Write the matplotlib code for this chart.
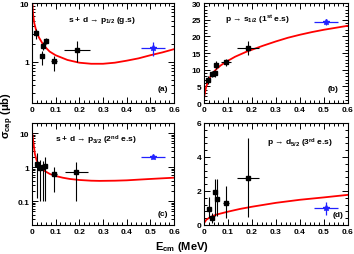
import numpy as np
import matplotlib
matplotlib.use('Agg')
import matplotlib.pyplot as plt
from matplotlib.ticker import MultipleLocator, FixedLocator, FixedFormatter, NullFormatter, LogLocator

plt.rcParams['font.family'] = ['Liberation Sans', 'DejaVu Sans']
plt.rcParams['mathtext.fontset'] = 'custom'
plt.rcParams['mathtext.rm'] = 'Liberation Sans:bold'
plt.rcParams['mathtext.it'] = 'Liberation Sans:bold'
plt.rcParams['mathtext.bf'] = 'Liberation Sans:bold'

# ---- panel (a) s + d -> p1/2 (g.s) ----
a_x = [0.017, 0.041, 0.048, 0.058, 0.093, 0.189]
a_y = [3.1, 1.25, 1.89, 2.3, 1.03, 1.62]
a_xlo = [0.008, 0.004, 0.004, 0.004, 0.012, 0.055]
a_xhi = [0.008, 0.004, 0.004, 0.004, 0.012, 0.055]
a_ylo = [0.65, 0.38, 0.3, 0.3, 0.32, 0.63]
a_yhi = [0.5, 0.3, 0.3, 0.3, 0.25, 0.68]
a_bx, a_by = 0.51, 1.71
a_bxe, a_bye = [0.05], [[0.43], [0.5]]
a_cx = [0.002, 0.005, 0.01, 0.02, 0.03, 0.05, 0.075, 0.1, 0.15, 0.2, 0.25, 0.3,
        0.35, 0.4, 0.45, 0.5, 0.55, 0.6]
a_cy = [10.5, 6.5, 4.6, 3.2, 2.6, 1.9, 1.5, 1.3, 1.08, 0.97, 0.93, 0.93,
        0.97, 1.05, 1.15, 1.3, 1.45, 1.65]

# ---- panel (b) p -> s1/2 (1st e.s) ----
b_x = [0.017, 0.035, 0.045, 0.052, 0.093, 0.184]
b_y = [6.9, 8.7, 8.9, 11.4, 12.2, 16.5]
b_xe = [0.006, 0.008, 0.008, 0.006, 0.02, 0.045]
b_ye = [1.3, 1.0, 1.0, 1.2, 1.0, 2.0]
b_bx, b_by = 0.51, 24.3
b_bxe, b_bye = [0.05], [0.9]
b_cx = [0.0, 0.003, 0.01, 0.024, 0.04, 0.052, 0.07, 0.093, 0.13, 0.177, 0.246,
        0.3, 0.35, 0.4, 0.45, 0.5, 0.55, 0.6]
b_cy = [1.2, 2.6, 5.0, 7.6, 9.2, 10.2, 11.3, 12.4, 13.9, 15.4, 17.2,
        18.5, 19.6, 20.5, 21.3, 22.0, 22.6, 23.2]

# ---- panel (c) s + d -> p3/2 (2nd e.s) ----
c_x = [0.021, 0.034, 0.045, 0.057, 0.094, 0.187]
c_y = [1.25, 0.95, 1.0, 1.1, 0.62, 0.70]
c_xe = [0.004, 0.004, 0.004, 0.004, 0.012, 0.049]
c_ylo = [1.13, 0.85, 0.9, 1.0, 0.43, 0.60]
c_yhi = [1.3, 0.65, 0.5, 0.9, 0.4, 0.74]
c_bx, c_by = 0.51, 2.0
c_bxe, c_bye = [0.05], [0.3]
c_cx = [0.002, 0.006, 0.013, 0.02, 0.034, 0.05, 0.076, 0.1, 0.13, 0.16, 0.2,
        0.25, 0.285, 0.35, 0.4, 0.45, 0.5, 0.55, 0.6]
c_cy = [9.5, 5.6, 2.4, 1.6, 1.03, 0.8, 0.63, 0.55, 0.49, 0.45, 0.42,
        0.4, 0.395, 0.4, 0.41, 0.43, 0.45, 0.47, 0.49]

# ---- panel (d) p -> d5/2 (3rd e.s) ----
d_x = [0.02, 0.035, 0.045, 0.054, 0.091, 0.184]
d_y = [0.94, 0.43, 1.91, 1.52, 1.31, 2.79]
d_xe = [0.004, 0.004, 0.004, 0.004, 0.012, 0.046]
d_ylo = [0.55, 0.3, 1.4, 1.0, 0.92, 2.34]
d_yhi = [0.72, 0.3, 0.82, 1.2, 0.97, 2.3]
d_bx, d_by = 0.508, 0.97
d_bxe, d_bye = [0.05], [0.39]
d_cx = [0.0, 0.01, 0.025, 0.05, 0.1, 0.15, 0.2, 0.3, 0.4, 0.5, 0.6]
d_cy = [0.1, 0.3, 0.45, 0.6, 0.78, 0.94, 1.07, 1.3, 1.48, 1.62, 1.77]

fig = plt.figure(figsize=(3.54, 2.55), dpi=100)
ax_a = fig.add_axes([0.090, 0.592, 0.402, 0.392])
ax_b = fig.add_axes([0.576, 0.592, 0.407, 0.392])
ax_c = fig.add_axes([0.090, 0.114, 0.402, 0.400])
ax_d = fig.add_axes([0.576, 0.114, 0.407, 0.400])

blue = '#2222ff'


def style(ax):
    ax.set_xlim(0, 0.6)
    ax.xaxis.set_minor_locator(MultipleLocator(0.02))
    ax.set_xticks([0, 0.1, 0.2, 0.3, 0.4, 0.5, 0.6])
    ax.set_xticklabels(['0', '0.1', '0.2', '0.3', '0.4', '0.5', '0.6'])
    ax.tick_params(which='both', direction='in', top=True, right=True,
                   labelsize=6, pad=2, width=0.7)
    ax.tick_params(which='major', length=4)
    ax.tick_params(which='minor', length=2)
    for lab in ax.get_xticklabels():
        lab.set_fontweight('bold')
    for s in ax.spines.values():
        s.set_linewidth(0.8)


def bold_y(ax):
    for lab in ax.get_yticklabels():
        lab.set_fontweight('bold')


def points(ax, x, y, xe, ye, bx, by, bxe, bye):
    ax.errorbar(x, y, xerr=xe, yerr=ye, fmt='s', color='black', ms=3,
                elinewidth=0.8, capsize=0, zorder=3)
    ax.errorbar([bx], [by], xerr=bxe, yerr=bye, fmt='*', color=blue, ms=4,
                elinewidth=0.9, capsize=0, zorder=3)


def label(ax, x, y, s):
    ax.text(x, y, s, transform=ax.transAxes, ha='center', va='center',
            fontsize=6, fontweight='bold')


# (a)
ax_a.plot(a_cx, a_cy, color='red', lw=1.3, zorder=2)
points(ax_a, a_x, a_y, [a_xlo, a_xhi], [a_ylo, a_yhi], a_bx, a_by, a_bxe, a_bye)
ax_a.set_yscale('log')
ax_a.set_ylim(0.2, 10)
style(ax_a)
ax_a.yaxis.set_major_locator(FixedLocator([1, 10]))
ax_a.yaxis.set_major_formatter(FixedFormatter(['1', '10']))
ax_a.yaxis.set_minor_locator(LogLocator(subs=np.arange(2, 10)))
ax_a.yaxis.set_minor_formatter(NullFormatter())
bold_y(ax_a)
label(ax_a, 0.49, 0.84, 's + d \u2192 p$_{1/2}$ (g.s)')
label(ax_a, 0.92, 0.15, '(a)')

# (b)
ax_b.plot(b_cx, b_cy, color='red', lw=1.3, zorder=2)
points(ax_b, b_x, b_y, b_xe, b_ye, b_bx, b_by, b_bxe, b_bye)
ax_b.set_ylim(0, 30)
style(ax_b)
ax_b.yaxis.set_major_locator(MultipleLocator(5))
ax_b.yaxis.set_minor_locator(MultipleLocator(1))
bold_y(ax_b)
label(ax_b, 0.37, 0.84, 'p \u2192 s$_{1/2}$ (1$^{st}$ e.s)')
label(ax_b, 0.895, 0.15, '(b)')

# (c)
ax_c.plot(c_cx, c_cy, color='red', lw=1.3, zorder=2)
points(ax_c, c_x, c_y, c_xe, [c_ylo, c_yhi], c_bx, c_by, c_bxe, c_bye)
ax_c.set_yscale('log')
ax_c.set_ylim(0.02, 20)
style(ax_c)
ax_c.yaxis.set_major_locator(FixedLocator([0.1, 1, 10]))
ax_c.yaxis.set_major_formatter(FixedFormatter(['0.1', '1', '10']))
ax_c.yaxis.set_minor_locator(LogLocator(subs=np.arange(2, 10)))
ax_c.yaxis.set_minor_formatter(NullFormatter())
bold_y(ax_c)
label(ax_c, 0.45, 0.84, 's + d \u2192 p$_{3/2}$ (2$^{nd}$ e.s)')
label(ax_c, 0.92, 0.11, '(c)')

# (d)
ax_d.plot(d_cx, d_cy, color='red', lw=1.3, zorder=2)
points(ax_d, d_x, d_y, d_xe, [d_ylo, d_yhi], d_bx, d_by, d_bxe, d_bye)
ax_d.set_ylim(0, 6)
style(ax_d)
ax_d.yaxis.set_major_locator(MultipleLocator(2))
ax_d.yaxis.set_minor_locator(MultipleLocator(0.4))
bold_y(ax_d)
label(ax_d, 0.67, 0.81, 'p \u2192 d$_{5/2}$ (3$^{rd}$ e.s)')
label(ax_d, 0.93, 0.10, '(d)')

fig.text(0.022, 0.545, r'$\sigma_{\rm cap}$ ($\mu$b)', rotation=90, ha='center', va='center',
         fontsize=8, fontweight='bold')
fig.text(0.515, 0.03, r'E$_{\rm cm}$ (MeV)', ha='center', va='center',
         fontsize=8, fontweight='bold')

fig.savefig('out.png', dpi=100)
